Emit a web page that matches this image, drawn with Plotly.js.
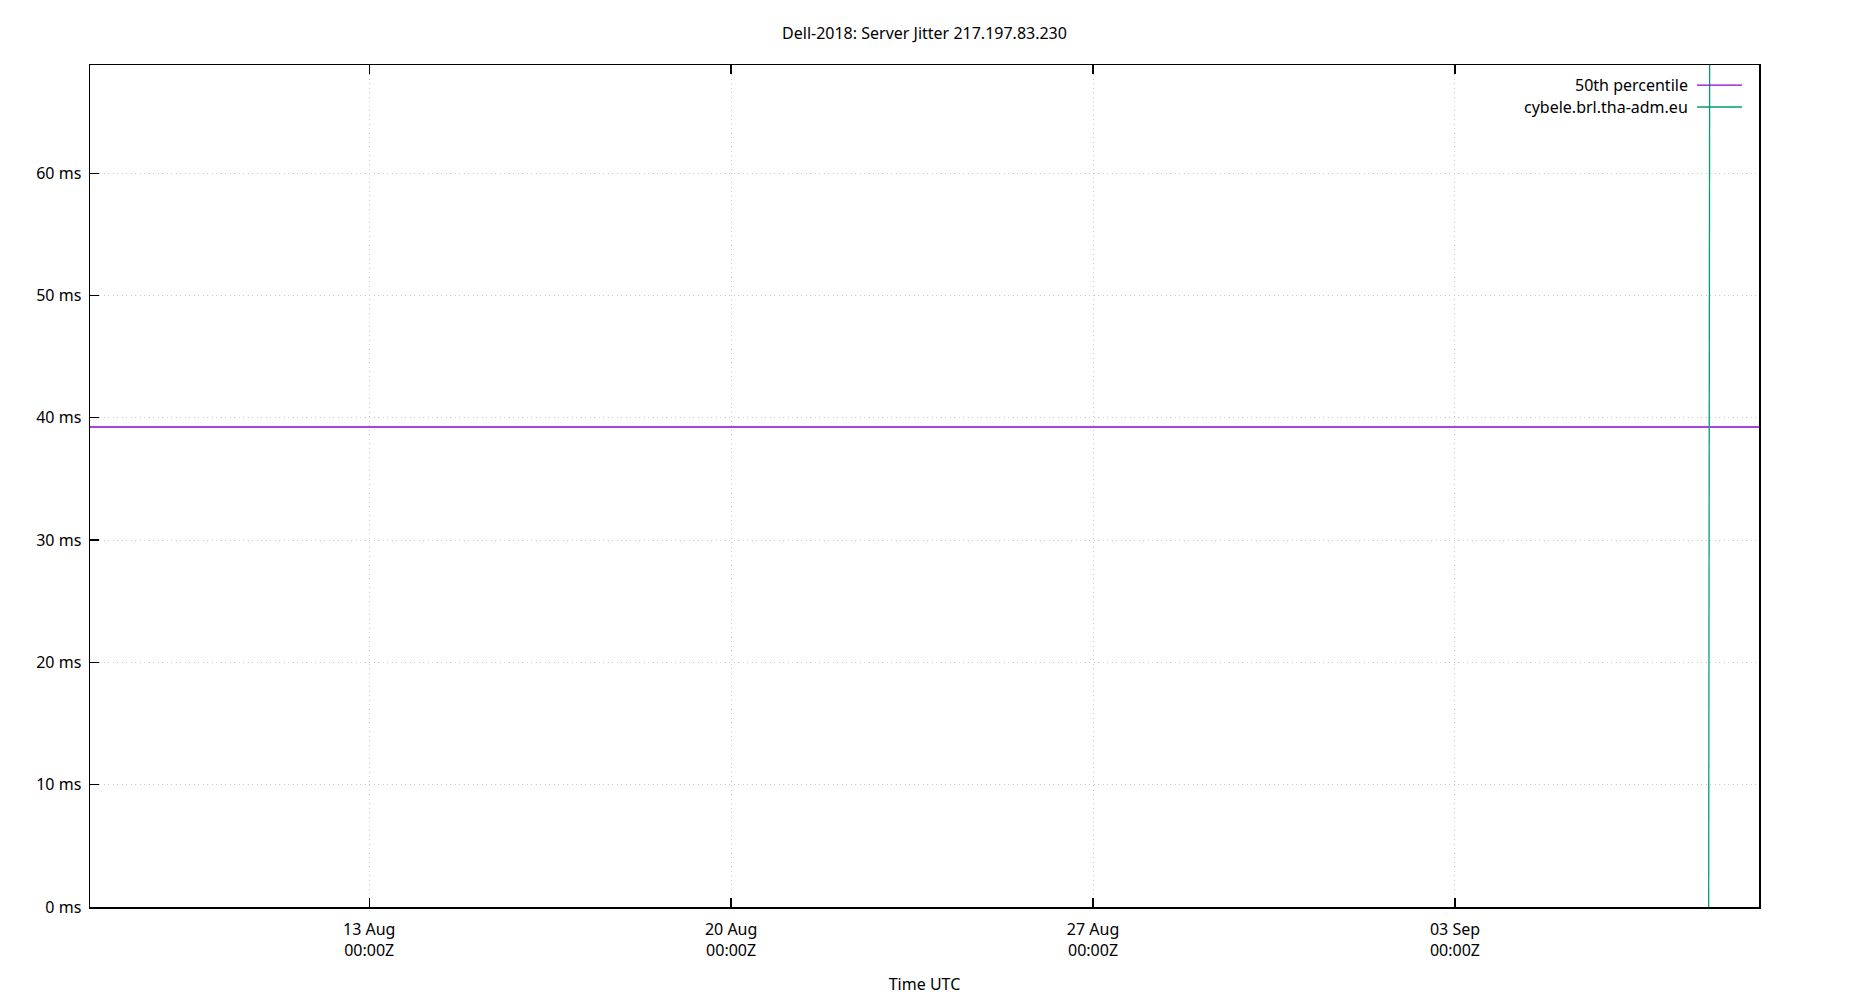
<!DOCTYPE html>
<html>
<head>
<meta charset="utf-8">
<script src="https://cdn.plot.ly/plotly-3.0.1.min.js"></script>
<style>
  body { margin: 0; background: #fff; }
  #chart { width: 1850px; height: 1000px; }
</style>
</head>
<body>
<div id="chart"></div>
<script>
// series
var seriesNames = ['50th percentile', 'cybele.brl.tha-adm.eu'];
var seriesColors = ['#9400d3', '#009e73'];

var p50Times = ['2018-08-07 14:24', '2018-09-08 21:07'];
var p50Values = [39.25, 39.25];

var cybeleTimes = ['2018-09-07 21:45', '2018-09-07 22:45'];
var cybeleValues = [0, 150];

var xRange = ['2018-08-07 14:24', '2018-09-08 21:07'];
var yRange = [0, 68.85];

var xTickVals = ['2018-08-13 00:00', '2018-08-20 00:00', '2018-08-27 00:00', '2018-09-03 00:00'];
var xTickText = ['13 Aug<br>00:00Z', '20 Aug<br>00:00Z', '27 Aug<br>00:00Z', '03 Sep<br>00:00Z'];

var font = 'Noto Sans, DejaVu Sans, sans-serif';
var fsize = 16;

var p50 = {
    x: p50Times,
    y: p50Values,
    type: 'scatter',
    mode: 'lines',
    name: seriesNames[0],
    line: { color: seriesColors[0], width: 1.3 }
};

var cybele = {
    x: cybeleTimes,
    y: cybeleValues,
    type: 'scatter',
    mode: 'lines',
    name: seriesNames[1],
    line: { color: seriesColors[1], width: 1.3 }
};

// gnuplot style key: text on the left, sample line on the right
var legendAnnotations = [],
    legendShapes = [];
var rowY = [0.9762, 0.9501];
for (let i = 0; i < seriesNames.length; i++) {
    legendAnnotations.push({
        xref: 'paper', yref: 'paper',
        x: 0.9585, y: rowY[i],
        xanchor: 'right', yanchor: 'middle',
        text: seriesNames[i],
        showarrow: false,
        font: { family: font, size: fsize, color: '#000' }
    })
    legendShapes.push({
        type: 'line',
        xref: 'paper', yref: 'paper',
        x0: 0.9629, x1: 0.9898,
        y0: rowY[i], y1: rowY[i],
        line: { color: seriesColors[i], width: 1.3 }
    })
}

var layout = {
    width: 1850,
    height: 1000,
    paper_bgcolor: '#fff',
    plot_bgcolor: '#fff',
    showlegend: false,
    margin: { l: 90, r: 91, t: 65, b: 93 },
    font: { family: font, size: fsize, color: '#000' },
    title: {
        text: 'Dell-2018: Server Jitter 217.197.83.230',
        font: { family: font, size: fsize, color: '#000' },
        x: 0.5,
        xref: 'paper',
        y: 0.967,
        yanchor: 'middle'
    },
    xaxis: {
        type: 'date',
        range: xRange,
        tickvals: xTickVals,
        ticktext: xTickText,
        ticks: 'inside',
        ticklen: 9,
        tickwidth: 1.3,
        tickcolor: '#000',
        ticklabelstandoff: 7,
        showline: true,
        linecolor: '#000',
        linewidth: 1.5,
        mirror: 'ticks',
        showgrid: true,
        gridcolor: '#c8c8c8',
        griddash: '1px,3.5px',
        gridwidth: 1,
        zeroline: false,
        tickfont: { family: font, size: fsize, color: '#000' },
        title: {
            text: 'Time UTC',
            font: { family: font, size: fsize, color: '#000' },
            standoff: 19
        }
    },
    yaxis: {
        range: yRange,
        dtick: 10,
        tick0: 0,
        ticksuffix: ' ms',
        ticks: 'inside',
        ticklen: 9,
        tickwidth: 1.3,
        tickcolor: '#000',
        ticklabelstandoff: 4,
        showline: true,
        linecolor: '#000',
        linewidth: 1.5,
        mirror: true,
        showgrid: true,
        gridcolor: '#c8c8c8',
        griddash: '1px,3.5px',
        gridwidth: 1,
        zeroline: false,
        tickfont: { family: font, size: fsize, color: '#000' }
    },
    annotations: legendAnnotations,
    shapes: legendShapes
};

Plotly.newPlot('chart', [p50, cybele], layout, { displayModeBar: false, staticPlot: true });
</script>
</body>
</html>
